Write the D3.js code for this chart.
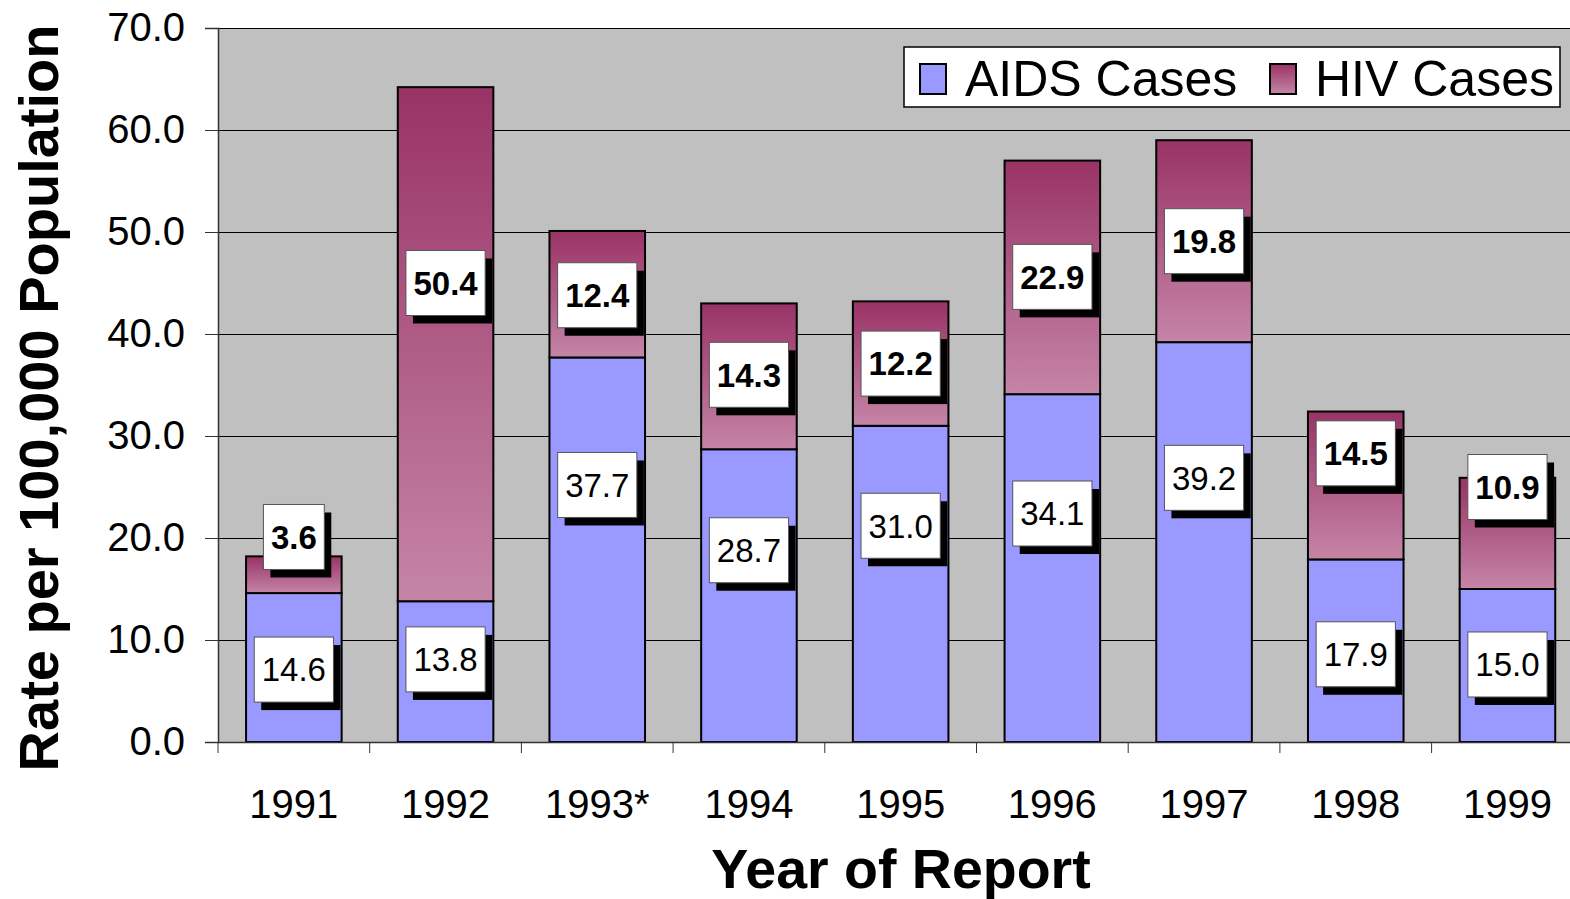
<!DOCTYPE html>
<html>
<head>
<meta charset="utf-8">
<script src="https://cdn.jsdelivr.net/npm/d3@7"></script>
<style>
  html, body { margin: 0; padding: 0; background: #fff; }
  svg { display: block; }
</style>
</head>
<body>
<svg id="chart" width="1570" height="899"></svg>
<script>
// Chart data
const years = ['1991', '1992', '1993*', '1994', '1995', '1996', '1997', '1998', '1999'];
const aidsRates = [14.6, 13.8, 37.7, 28.7, 31.0, 34.1, 39.2, 17.9, 15.0];
const hivRates = [3.6, 50.4, 12.4, 14.3, 12.2, 22.9, 19.8, 14.5, 10.9];
// where the value boxes sit (data units)
const aidsLabelAt = [7.1, 8.1, 25.2, 18.8, 21.2, 22.4, 25.9, 8.6, 7.6];
const hivLabelAt = [20.1, 45.0, 43.8, 36.0, 37.1, 45.6, 49.1, 28.3, 25.0];
const yTicks = [0, 10, 20, 30, 40, 50, 60, 70];
const seriesNames = ['AIDS Cases', 'HIV Cases'];

const FONT = 'Arial, "Liberation Sans", sans-serif';
const colors = {
  plot: '#c0c0c0',
  aids: '#9999ff',
  hivTop: '#993366',
  hivBottom: '#c585a7'
};

const svg = d3.select('#chart');
const margin = { left: 218, top: 28, bottom: 742 };
const plotRight = 218 + 9 * 151.7;

const x = d3.scaleBand()
  .domain(years)
  .range([margin.left, plotRight])
  .paddingInner(0.37)
  .paddingOuter(0.185);

const y = d3.scaleLinear()
  .domain([0, 70])
  .range([margin.bottom, margin.top]);

// Gradient for the HIV segments
const defs = svg.append('defs');
const grad = defs.append('linearGradient')
  .attr('id', 'hivGrad')
  .attr('x1', 0).attr('y1', 0).attr('x2', 0).attr('y2', 1);
grad.append('stop').attr('offset', '0%').attr('stop-color', colors.hivTop);
grad.append('stop').attr('offset', '100%').attr('stop-color', colors.hivBottom);

// Plot background
svg.append('rect')
  .attr('x', margin.left)
  .attr('y', y(70))
  .attr('width', plotRight - margin.left)
  .attr('height', y(0) - y(70))
  .attr('fill', colors.plot);

// Grid lines
svg.append('g')
  .selectAll('line')
  .data(yTicks.filter(d => d > 0))
  .join('line')
  .attr('x1', margin.left)
  .attr('x2', plotRight)
  .attr('y1', d => y(d) + 0.5)
  .attr('y2', d => y(d) + 0.5)
  .attr('stroke', '#000')
  .attr('stroke-width', 1);

// Stacked bars
const stackData = years.map((yr, i) => ({ year: yr, aids: aidsRates[i], hiv: hivRates[i] }));
const barW = x.bandwidth();

const bars = svg.append('g').attr('class', 'bars');
bars.selectAll('rect.aids')
  .data(stackData)
  .join('rect')
  .attr('class', 'aids')
  .attr('x', d => x(d.year))
  .attr('y', d => y(d.aids))
  .attr('width', barW)
  .attr('height', d => y(0) - y(d.aids))
  .attr('fill', colors.aids)
  .attr('stroke', '#000')
  .attr('stroke-width', 2);

bars.selectAll('rect.hiv')
  .data(stackData)
  .join('rect')
  .attr('class', 'hiv')
  .attr('x', d => x(d.year))
  .attr('y', d => y(d.aids + d.hiv))
  .attr('width', barW)
  .attr('height', d => y(d.aids) - y(d.aids + d.hiv))
  .attr('fill', 'url(#hivGrad)')
  .attr('stroke', '#000')
  .attr('stroke-width', 2);

// Y axis
const yAxis = d3.axisLeft(y)
  .tickValues(yTicks)
  .tickSize(13)
  .tickPadding(20)
  .tickFormat(d3.format('.1f'));

const yAxisG = svg.append('g')
  .attr('transform', `translate(${margin.left},0)`)
  .call(yAxis);
yAxisG.select('.domain').attr('stroke', '#333').attr('stroke-width', 1.5);
yAxisG.selectAll('.tick line').attr('stroke', '#333');
yAxisG.selectAll('text')
  .attr('font-family', FONT)
  .attr('font-size', '40px')
  .attr('fill', '#000');

// X axis (ticks fall between categories)
const xAxis = d3.axisBottom(x).tickSize(0).tickPadding(48);
const xAxisG = svg.append('g')
  .attr('transform', `translate(0,${margin.bottom})`)
  .call(xAxis);
xAxisG.select('.domain').attr('stroke', '#333').attr('stroke-width', 1.5);
xAxisG.selectAll('text')
  .attr('font-family', FONT)
  .attr('font-size', '40px')
  .attr('fill', '#000');

const boundaries = d3.range(years.length + 1).map(i => margin.left + i * x.step());
xAxisG.selectAll('line.sep')
  .data(boundaries)
  .join('line')
  .attr('class', 'sep')
  .attr('x1', d => d).attr('x2', d => d)
  .attr('y1', 0).attr('y2', 11)
  .attr('stroke', '#333');

// Value boxes
function drawLabels(values, at, bold) {
  const g = svg.append('g');
  values.forEach((v, i) => {
    const cx = x(years[i]) + barW / 2;
    const cy = y(at[i]);
    const lg = g.append('g');
    const txt = lg.append('text')
      .attr('x', cx)
      .attr('y', cy)
      .attr('text-anchor', 'middle')
      .attr('dy', '0.36em')
      .attr('font-family', FONT)
      .attr('font-size', '33px')
      .attr('font-weight', bold ? 'bold' : 'normal')
      .attr('fill', '#000')
      .text(d3.format('.1f')(v));
    const tw = txt.node().getComputedTextLength();
    const w = tw + 15;
    const h = 65;
    lg.insert('rect', 'text')
      .attr('x', cx - w / 2 + 7)
      .attr('y', cy - h / 2 + 8)
      .attr('width', w)
      .attr('height', h)
      .attr('fill', '#000');
    lg.insert('rect', 'text')
      .attr('x', cx - w / 2)
      .attr('y', cy - h / 2)
      .attr('width', w)
      .attr('height', h)
      .attr('fill', '#fff')
      .attr('stroke', '#555')
      .attr('stroke-width', 1);
  });
}
drawLabels(aidsRates, aidsLabelAt, false);
drawLabels(hivRates, hivLabelAt, true);

// Legend
const legend = svg.append('g').attr('transform', 'translate(904,47)');
legend.append('rect')
  .attr('width', 656)
  .attr('height', 60)
  .attr('fill', '#fff')
  .attr('stroke', '#000')
  .attr('stroke-width', 1.5);
const legendX = [16, 366];
const legendFill = [colors.aids, 'url(#hivGrad)'];
seriesNames.forEach((name, i) => {
  legend.append('rect')
    .attr('x', legendX[i])
    .attr('y', 17)
    .attr('width', 26)
    .attr('height', 30)
    .attr('fill', legendFill[i])
    .attr('stroke', '#000')
    .attr('stroke-width', 2);
  legend.append('text')
    .attr('x', legendX[i] + 45)
    .attr('y', 49)
    .attr('font-family', FONT)
    .attr('font-size', '50px')
    .attr('fill', '#000')
    .text(name);
});

// Axis titles
svg.append('text')
  .attr('x', 901)
  .attr('y', 888)
  .attr('text-anchor', 'middle')
  .attr('font-family', FONT)
  .attr('font-size', '55.5px')
  .attr('font-weight', 'bold')
  .text('Year of Report');

svg.append('text')
  .attr('transform', 'translate(58,398) rotate(-90)')
  .attr('text-anchor', 'middle')
  .attr('font-family', FONT)
  .attr('font-size', '56px')
  .attr('font-weight', 'bold')
  .text('Rate per 100,000 Population');
</script>
</body>
</html>
